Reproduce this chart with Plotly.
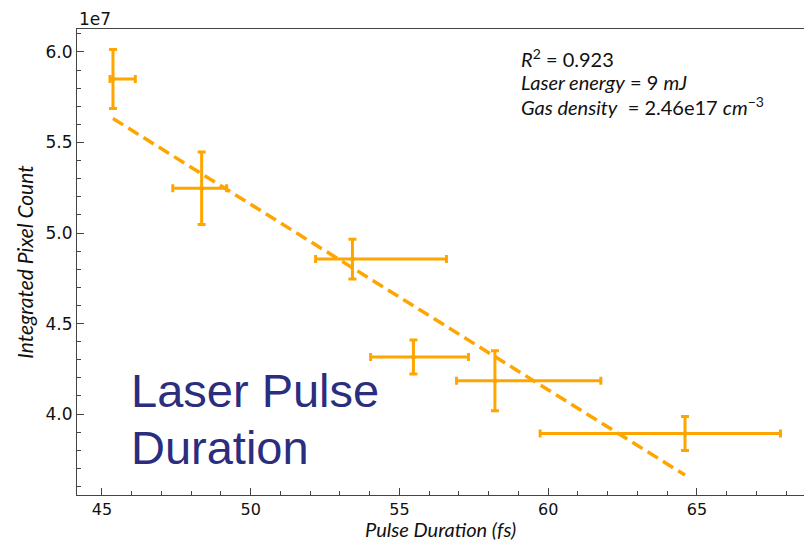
import numpy as np
import plotly.graph_objects as go

# Measured pulse durations (fs) with asymmetric uncertainty
pulse_fs = [45.37, 48.35, 53.42, 55.47, 58.21, 64.60]
pulse_err_minus = [0.10, 0.97, 1.24, 1.44, 1.29, 4.87]
pulse_err_plus = [0.75, 0.84, 3.16, 1.85, 3.56, 3.21]

# Integrated pixel count (units of 1e7)
counts_1e7 = [5.851, 5.247, 4.856, 4.315, 4.184, 3.893]
counts_err = [0.163, 0.200, 0.110, 0.094, 0.166, 0.094]

x_ticks = [45, 50, 55, 60, 65]
y_ticks = [4.0, 4.5, 5.0, 5.5, 6.0]

# Fit statistics and experimental conditions shown in the legend box
r_squared = "0.923"
laser_energy_mj = 9
gas_density = "2.46e17"

ORANGE = "#FFA500"
NAVY = "#2B2D7E"

# Linear fit through the measurements
slope, intercept = np.polyfit(pulse_fs, counts_1e7, 1)
fit_x = np.array([min(pulse_fs), max(pulse_fs)])
fit_y = slope * fit_x + intercept

fig = go.Figure()
fig.add_trace(go.Scatter(
    x=fit_x, y=fit_y, mode="lines",
    line=dict(color=ORANGE, width=3.5, dash="12px,6px"),
    showlegend=False, hoverinfo="skip",
))
fig.add_trace(go.Scatter(
    x=pulse_fs, y=counts_1e7, mode="markers",
    marker=dict(color=ORANGE, size=5),
    error_x=dict(type="data", symmetric=False, array=pulse_err_plus,
                 arrayminus=pulse_err_minus, color=ORANGE, thickness=3, width=4),
    error_y=dict(type="data", array=counts_err, color=ORANGE, thickness=3, width=4),
    showlegend=False,
))

tick_font = dict(family="DejaVu Sans", size=17, color="#111111")
xtick_font = dict(family="DejaVu Sans", size=16, color="#111111")
title_font = dict(family="Lato", size=21, color="#111111")

fig.update_xaxes(
    range=[44.16, 68.6], tickvals=x_ticks, ticktext=[str(v) for v in x_ticks],
    ticks="inside", ticklen=7, tickwidth=1, tickcolor="#444",
    minor=dict(dtick=1, ticks="inside", ticklen=4, tickcolor="#444"),
    showline=True, linecolor="#444", linewidth=1, mirror=True,
    showgrid=False, zeroline=False, tickfont=xtick_font,
)
fig.update_yaxes(
    range=[3.553, 6.127], tickvals=y_ticks, ticktext=[f"{v:.1f}" for v in y_ticks],
    ticks="inside", ticklen=7, tickwidth=1, tickcolor="#444",
    minor=dict(dtick=0.1, ticks="inside", ticklen=4, tickcolor="#444"),
    showline=True, linecolor="#444", linewidth=1, mirror=True,
    showgrid=False, zeroline=False, tickfont=tick_font,
    title=dict(text="<i>Integrated Pixel Count</i>", font=title_font, standoff=6),
)

info_font = dict(family="Lato", size=20, color="#111111")
big_font = dict(family="Liberation Sans", size=47, color=NAVY)

annotations = [
    dict(text="1e7", x=0, y=1, xanchor="left", yanchor="bottom", font=tick_font, yshift=-2),
    dict(text="<i>Pulse Duration (fs)</i>", x=0.5, y=-0.103, xanchor="center",
         yanchor="bottom", font=dict(family="Lato", size=20, color="#111111")),
    dict(text=f"<i>R</i><sup>2</sup> = {r_squared}", x=0.608, y=0.938, font=info_font),
    dict(text=f"<i>Laser energy</i> = {laser_energy_mj} <i>mJ</i>", x=0.608, y=0.886, font=info_font),
    dict(text=f"<i>Gas density</i>  = {gas_density} <i>cm</i><sup>\u22123</sup>", x=0.608, y=0.835,
         font=info_font),
    dict(text="Laser Pulse", x=0.072, y=0.225, font=big_font),
    dict(text="Duration", x=0.072, y=0.103, font=big_font),
]
for a in annotations[2:]:
    a.update(xanchor="left", yanchor="middle")
for a in annotations:
    a.update(xref="paper", yref="paper", showarrow=False)

fig.update_layout(
    width=804, height=543,
    margin=dict(l=77, r=0, t=29, b=48),
    plot_bgcolor="white", paper_bgcolor="white",
    annotations=annotations,
)

fig.write_html("out.html")
